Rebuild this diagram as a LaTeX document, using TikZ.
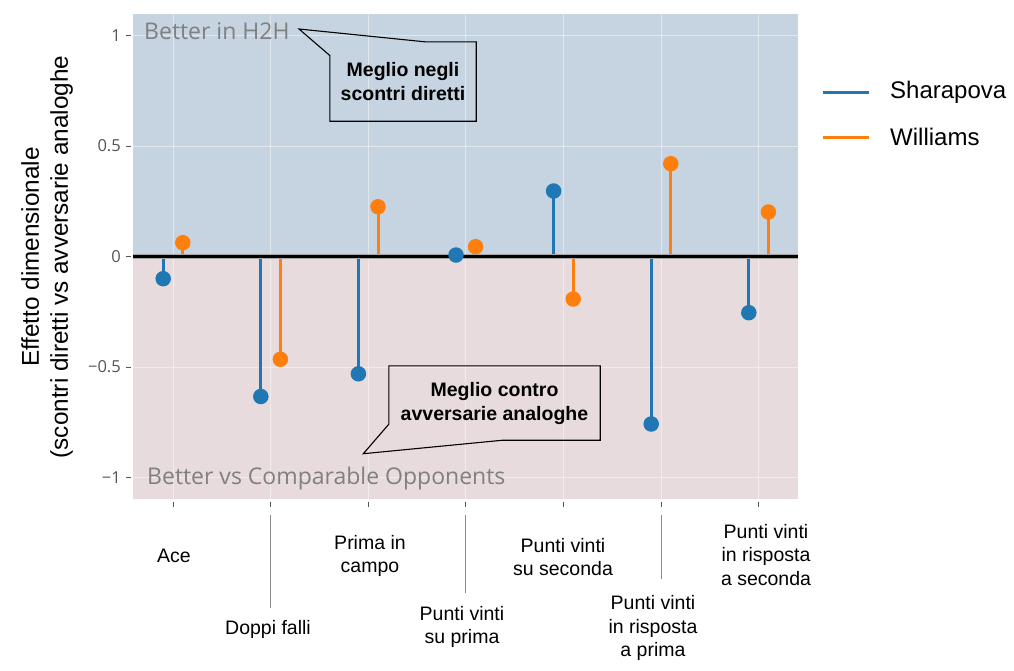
\documentclass[tikz,border=0pt]{standalone}
\usepackage{fontspec}
\setmainfont{Liberation Sans}
\newfontfamily\osans{Open Sans}
\usetikzlibrary{calc}
\definecolor{sblue}{RGB}{31,119,180}
\definecolor{worange}{RGB}{255,127,14}
\definecolor{bgup}{RGB}{197,212,224}
\definecolor{bgdown}{RGB}{232,219,221}
\definecolor{tickc}{RGB}{85,85,85}
\definecolor{annc}{RGB}{128,128,128}
\definecolor{leadc}{RGB}{140,140,140}
\tikzset{
  gridline/.style={draw=white, opacity=0.45, line width=0.9pt},
  sstem/.style={draw=sblue, line width=3pt},
  wstem/.style={draw=worange, line width=3pt},
  sdot/.style={circle, fill=sblue, minimum size=15.5pt, inner sep=0pt},
  wdot/.style={circle, fill=worange, minimum size=15.5pt, inner sep=0pt},
  ytick/.style={font=\osans\fontsize{16.5}{18}\selectfont, text=tickc, anchor=east, inner sep=0pt},
  tickmark/.style={draw=tickc, line width=0.9pt},
  anntext/.style={font=\osans\fontsize{23}{26}\selectfont, text=annc, anchor=west, inner sep=0pt},
  callbox/.style={minimum width=#1, inner sep=0pt, align=center,
     font=\bfseries\fontsize{19.5}{24}\selectfont},
  callline/.style={draw=black, line width=1.1pt, line join=miter},
  catlabel/.style={align=center, inner sep=0pt, font=\fontsize{19.5}{23.5}\selectfont},
  leader/.style={draw=leadc, line width=0.8pt},
  legline/.style={line width=3pt},
  legtext/.style={anchor=west, inner sep=0pt, font=\fontsize{24}{27}\selectfont}
}
\begin{document}
\begin{tikzpicture}[x=1pt,y=-1pt]
\useasboundingbox (0,0) rectangle (1014,670);
\fill[white] (0,0) rectangle (1014,670);
% plot background
\fill[bgup] (133,14) rectangle (798,256.5);
\fill[bgdown] (133,256.5) rectangle (798,499);
% grid
\foreach \gy in {35.5,146,367,477.5} \draw[gridline] (133,\gy) -- (798,\gy);
\foreach \gx in {173,270.6,368.2,465.8,563.4,661,758.6} \draw[gridline] (\gx,14) -- (\gx,499);
% annotations in plot
\node[anntext] (h2h) at (144,31) {Better in H2H};
\node[anntext] (comp) at (147,479) {Better vs Comparable Opponents};
% stems
\foreach \i/\cx/\sy/\wy in {1/173/278.7/242.7, 2/270.6/396.5/359.3, 3/368.2/373.8/206.7,
   4/465.8/255/246.7, 5/563.4/191/299, 6/661/424/163.7, 7/758.6/312.7/212}{
  \coordinate (sb\i) at ({\cx-9.8},256.5);
  \coordinate (sd\i) at ({\cx-9.8},\sy);
  \coordinate (wb\i) at ({\cx+9.8},256.5);
  \coordinate (wd\i) at ({\cx+9.8},\wy);
  \draw[sstem] (sb\i) -- (sd\i);
  \draw[wstem] (wb\i) -- (wd\i);
}
% zero line
\coordinate (z0) at (133,256.5);
\coordinate (z1) at (798,256.5);
\draw[black!35, line width=4.5pt] (z0) -- (z1);
\draw[black, line width=2.8pt] (z0) -- (z1);
% dots
\foreach \i in {1,...,7}{
  \node[sdot] (s\i) at (sd\i) {};
  \node[wdot] (w\i) at (wd\i) {};
}
% y ticks
\foreach \gy/\lab in {35.5/1, 146/0.5, 256.5/0, 367/−0.5, 477.5/−1}{
  \draw[tickmark] (126,\gy) -- (130.5,\gy);
  \node[ytick] at (121,\gy) {\lab};
}
% x ticks
\foreach \gx in {173,270.6,368.2,465.8,563.4,661,758.6} \draw[tickmark] (\gx,502) -- (\gx,507);
% y axis title
\node[rotate=90, align=center, inner sep=0pt, font=\fontsize{24.3}{29}\selectfont] (ytitle) at (47,257)
  {Effetto dimensionale\\(scontri diretti vs avversarie analoghe};
% callout 1
\node[callbox=146pt, minimum height=79pt] (cb1) at (403,81.5) {Meglio negli\\scontri diretti};
\coordinate (tip1) at (299,29);
\draw[callline] ($(cb1.north west)+(0,13.7)$) -- (cb1.south west) -- (cb1.south east)
   -- (cb1.north east) -- ($(cb1.north west)+(95,0)$) -- (tip1) -- cycle;
% callout 2
\node[callbox=211pt, minimum height=74pt] (cb2) at (494.5,403) {Meglio contro\\avversarie analoghe};
\coordinate (tip2) at (363.3,453.7);
\draw[callline] (cb2.north west) -- (cb2.north east) -- (cb2.south east)
   -- ($(cb2.south west)+(114,0)$) -- (tip2) -- ($(cb2.south west)+(0,-16)$) -- cycle;
% category labels
\node[catlabel] (c1) at (174,556) {Ace};
\node[catlabel] (c3) at (370,556) {Prima in\\campo};
\node[catlabel] (c5) at (563,557) {Punti vinti\\su seconda};
\node[catlabel] (c7) at (766,555) {Punti vinti\\in risposta\\a seconda};
\node[catlabel] (c2) at (268,629) {Doppi falli};
\node[catlabel] (c4) at (462,627) {Punti vinti\\su prima};
\node[catlabel] (c6) at (653,628) {Punti vinti\\in risposta\\a prima};
% leader lines
\coordinate (l2a) at (270.6,515); \coordinate (l2b) at (270.6,608);
\coordinate (l4a) at (465.8,515); \coordinate (l4b) at (465.8,593);
\coordinate (l6a) at (661,515);   \coordinate (l6b) at (661,579);
\draw[leader] (l2a) -- (l2b);
\draw[leader] (l4a) -- (l4b);
\draw[leader] (l6a) -- (l6b);
% legend
\coordinate (lg1a) at (823,92); \coordinate (lg1b) at (869,92);
\coordinate (lg2a) at (823,137); \coordinate (lg2b) at (869,137);
\draw[legline, sblue] (lg1a) -- (lg1b);
\draw[legline, worange] (lg2a) -- (lg2b);
\node[legtext] (lt1) at (890,92) {Sharapova};
\node[legtext] (lt2) at (890,137) {Williams};
\end{tikzpicture}
\end{document}
